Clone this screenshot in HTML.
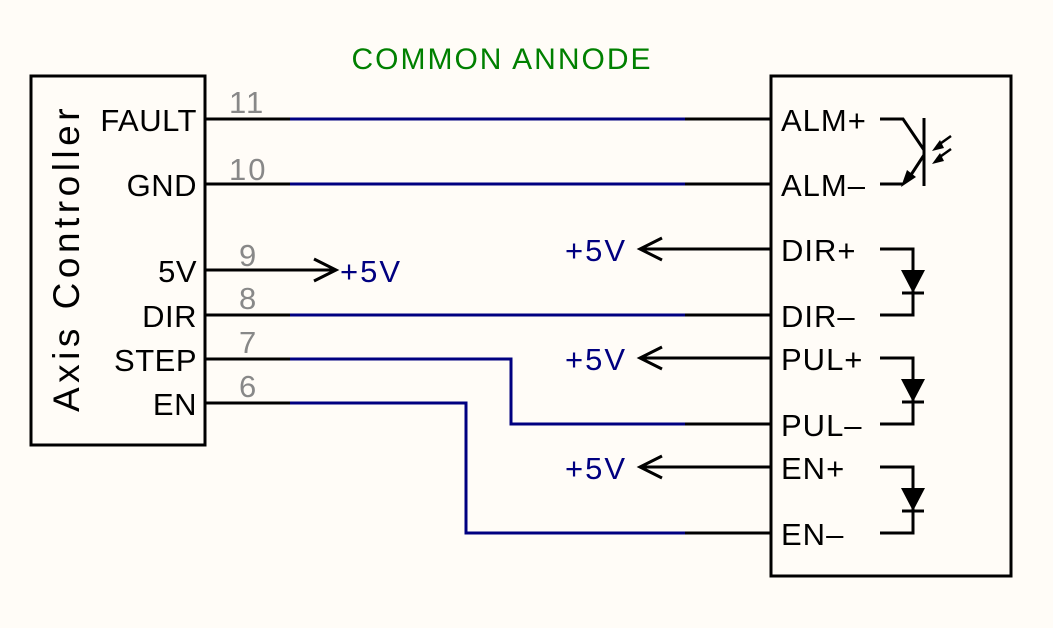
<!DOCTYPE html>
<html><head><style>
html,body{margin:0;padding:0;background:#fffcf7;}
svg{display:block}
text{font-family:"Liberation Sans",sans-serif;}
</style></head><body>
<svg width="1053" height="628" viewBox="0 0 1053 628" xmlns="http://www.w3.org/2000/svg">
<rect width="1053" height="628" fill="#fffcf7"/>
<g fill="none" stroke="#000" stroke-width="3">
<rect x="31" y="76" width="174" height="369"/>
<rect x="771" y="76" width="240" height="500"/>
</g>
<text x="502" y="69" font-size="30" fill="#008000" text-anchor="middle" letter-spacing="2">COMMON ANNODE</text>
<text transform="translate(79,258) rotate(-90)" font-size="37" text-anchor="middle" letter-spacing="4.5">Axis Controller</text>
<g font-size="31" text-anchor="end" letter-spacing="0.5">
<text x="197" y="131">FAULT</text>
<text x="197" y="196">GND</text>
<text x="197" y="282">5V</text>
<text x="197" y="327">DIR</text>
<text x="197" y="371">STEP</text>
<text x="197" y="415">EN</text>
</g>
<g font-size="31" fill="#888" letter-spacing="2">
<text x="229" y="113">11</text>
<text x="229" y="180">10</text>
<text x="239" y="266">9</text>
<text x="239" y="309">8</text>
<text x="239" y="353">7</text>
<text x="239" y="397">6</text>
</g>
<g font-size="31" letter-spacing="1">
<text x="781" y="131">ALM+</text>
<text x="781" y="196">ALM–</text>
<text x="781" y="261">DIR+</text>
<text x="781" y="327">DIR–</text>
<text x="781" y="370">PUL+</text>
<text x="781" y="436">PUL–</text>
<text x="781" y="479">EN+</text>
<text x="781" y="545">EN–</text>
</g>
<g font-size="31" fill="#000080" letter-spacing="2">
<text x="340" y="282">+5V</text>
<text x="565" y="261">+5V</text>
<text x="565" y="370">+5V</text>
<text x="565" y="479">+5V</text>
</g>
<g fill="none" stroke="#000" stroke-width="3">
<path d="M206 119H290M206 184H290M206 270H336M206 315H290M206 359H290M206 403H290"/>
<path d="M685 119H771M685 184H771M685 315H771M685 424H771M685 533H771"/>
<path d="M314 259L336 270L314 281"/>
<path d="M771 249H640M662 238L640 249L662 260"/>
<path d="M771 358H640M662 347L640 358L662 369"/>
<path d="M771 467H640M662 456L640 467L662 478"/>
<path d="M880 119H903L924 150M924 118V186M924 155L907 181M880 184H903"/>
<path d="M880 249H913V315H880M902 293H924"/>
<path d="M880 358H913V424H880M902 402H924"/>
<path d="M880 467H913V533H880M902 511H924"/>
<path d="M951 136L937 146M951 149L937 159" stroke-width="2.5"/>
</g>
<g fill="#000">
<path d="M901 187L916 177L907 170Z"/>
<path d="M901 270H925L913 293Z"/>
<path d="M901 379H925L913 402Z"/>
<path d="M901 488H925L913 511Z"/>
<path d="M932 151L940 140L944 148Z"/>
<path d="M932 164L940 153L944 161Z"/>
</g>
<g fill="none" stroke="#000080" stroke-width="3">
<path d="M290 119H685M290 184H685M290 315H685"/>
<path d="M290 359H511V424H685"/>
<path d="M290 403H466V533H685"/>
</g>
</svg>
</body></html>
